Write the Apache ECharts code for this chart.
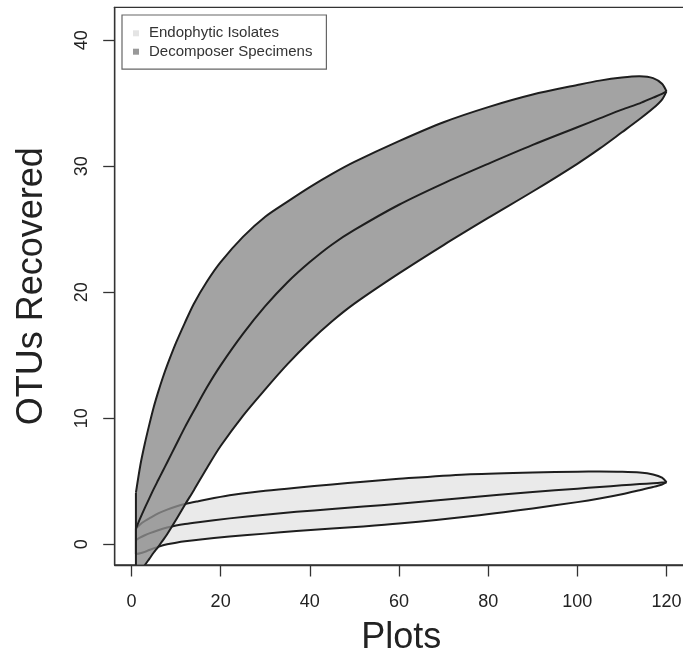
<!DOCTYPE html>
<html><head><meta charset="utf-8">
<script src="https://cdn.jsdelivr.net/npm/echarts@6/dist/echarts.min.js"></script>
<style>html,body{margin:0;padding:0;background:#fff;overflow:hidden}#c{width:683px;height:653px}</style>
</head><body><div id="c"></div>
<script>
// ---- data ----
const xTicks = [0, 20, 40, 60, 80, 100, 120];
const yTicks = [0, 10, 20, 30, 40];

const decX     = [1, 2, 3, 4, 5, 6, 7, 8, 10, 12, 14, 17, 20, 25, 30, 35, 40, 45, 50, 60, 70, 80, 90, 100, 105, 110, 114, 117, 119, 120];
const decUpper = [4.1, 6.3, 8.0, 9.5, 10.9, 12.1, 13.2, 14.2, 16.0, 17.6, 19.1, 20.9, 22.4, 24.4, 26.0, 27.2, 28.35, 29.4, 30.35, 32.0, 33.5, 34.7, 35.7, 36.45, 36.8, 37.05, 37.15, 37.0, 36.55, 35.95];
const decMean  = [1.25, 2.1, 2.9, 3.65, 4.4, 5.1, 5.8, 6.5, 7.9, 9.3, 10.6, 12.5, 14.2, 16.7, 18.9, 20.8, 22.4, 23.8, 24.95, 26.95, 28.65, 30.2, 31.7, 33.1, 33.8, 34.5, 35.0, 35.45, 35.75, 35.95];
const decLower = [-1.75, -2.05, -1.64, -1.15, -0.65, -0.2, 0.3, 0.8, 1.95, 3.15, 4.3, 6.1, 7.8, 10.2, 12.3, 14.3, 16.1, 17.7, 19.1, 21.5, 23.75, 25.9, 28.0, 30.2, 31.4, 32.7, 33.75, 34.6, 35.3, 35.95];

const endoX     = [1, 2, 3, 4, 6, 8, 10, 12, 15, 22, 30, 37, 45, 52, 60, 75, 90, 100, 105, 110, 114, 117, 119, 120];
const endoUpper = [1.25, 1.6, 1.85, 2.06, 2.45, 2.75, 3.0, 3.2, 3.42, 3.9, 4.25, 4.5, 4.75, 4.97, 5.2, 5.55, 5.71, 5.77, 5.78, 5.76, 5.7, 5.55, 5.3, 4.93];
const endoMean  = [0.34, 0.55, 0.72, 0.87, 1.12, 1.33, 1.5, 1.62, 1.76, 2.06, 2.35, 2.58, 2.8, 3.0, 3.22, 3.7, 4.15, 4.42, 4.55, 4.68, 4.78, 4.85, 4.9, 4.93];
const endoLower = [-0.77, -0.7, -0.6, -0.45, -0.2, 0.0, 0.13, 0.24, 0.37, 0.62, 0.85, 1.05, 1.25, 1.42, 1.65, 2.19, 2.85, 3.35, 3.64, 3.98, 4.3, 4.55, 4.75, 4.93];

const seriesNames = ['Endophytic Isolates', 'Decomposer Specimens'];

// ---- drawing ----
const FONT = 'Liberation Sans, Arial, Helvetica, sans-serif';
const LINE = '#1e1e1e';
const SMOOTH = 0.3;

function band(name, xs, up, mid, lo, fillColor, fillOpacity, z) {
  return {
    type: 'custom', name, z, clip: true, silent: true, animation: false,
    itemStyle: { color: fillColor },
    data: [[xs[0], up[0]]],
    renderItem: function (params, api) {
      const U = xs.map((x, i) => api.coord([x, up[i]]));
      const M = xs.map((x, i) => api.coord([x, mid[i]]));
      const L = xs.map((x, i) => api.coord([x, lo[i]]));
      const poly = U.concat(L.slice().reverse().slice(1));
      const stroke = { fill: null, stroke: LINE, lineWidth: 2, lineJoin: 'round' };
      return {
        type: 'group',
        children: [
          { type: 'polyline', shape: { points: poly, smooth: SMOOTH }, style: { fill: fillColor, opacity: fillOpacity, stroke: null } },
          { type: 'polyline', shape: { points: U, smooth: SMOOTH }, style: stroke },
          { type: 'polyline', shape: { points: L, smooth: SMOOTH }, style: stroke },
          { type: 'polyline', shape: { points: M, smooth: SMOOTH }, style: stroke },
          { type: 'polyline', shape: { points: [U[0], L[0]] }, style: stroke }
        ]
      };
    }
  };
}

const chart = echarts.init(document.getElementById('c'), null, { renderer: 'canvas' });
chart.setOption({
  animation: false,
  backgroundColor: '#fff',
  grid: { left: 114.7, top: 7.3, width: 573, height: 557.7, containLabel: false, outerBoundsMode: 'none',
          show: true, borderColor: '#333', borderWidth: 1.3, backgroundColor: 'transparent' },
  xAxis: {
    type: 'value', min: -3.76, max: 124.76, z: 10,
    name: 'Plots', nameLocation: 'middle', nameGap: 55,
    nameTextStyle: { fontFamily: FONT, fontSize: 36, color: '#222', lineHeight: 36 },
    axisLine: { show: true, onZero: false, lineStyle: { color: '#333', width: 1.3 } },
    axisTick: { show: true, length: 11.5, customValues: xTicks, lineStyle: { color: '#333', width: 1.3 } },
    axisLabel: { customValues: xTicks, margin: 28, fontFamily: FONT, fontSize: 18, color: '#222', lineHeight: 18 },
    splitLine: { show: false }
  },
  yAxis: {
    type: 'value', min: -1.64, max: 42.62, z: 10,
    name: 'OTUs Recovered', nameLocation: 'middle', nameGap: 65, nameRotate: 90,
    nameTextStyle: { fontFamily: FONT, fontSize: 36, color: '#222', lineHeight: 36 },
    axisLine: { show: true, onZero: false, lineStyle: { color: '#333', width: 1.3 } },
    axisTick: { show: true, length: 11.5, customValues: yTicks, lineStyle: { color: '#333', width: 1.3 } },
    axisLabel: { customValues: yTicks, rotate: 90, margin: 23.7, fontFamily: FONT, fontSize: 18, color: '#222', lineHeight: 18 },
    splitLine: { show: false }
  },
  legend: {
    left: 122, top: 15, orient: 'vertical',
    padding: [10.8, 14, 10, 11], itemWidth: 6, itemHeight: 6, itemGap: 3.4, icon: 'rect',
    backgroundColor: '#fff', borderColor: '#666', borderWidth: 1.2, selectedMode: false,
    itemStyle: { borderWidth: 0 },
    textStyle: { fontFamily: FONT, fontSize: 15, color: '#333', lineHeight: 15, padding: [0, 0, 0, 5] },
    data: [
      { name: seriesNames[0], itemStyle: { color: '#e4e4e4', borderWidth: 0 } },
      { name: seriesNames[1], itemStyle: { color: '#999999', borderWidth: 0 } }
    ]
  },
  series: [
    band(seriesNames[0], endoX, endoUpper, endoMean, endoLower, '#eaeaea', 1, 1),
    band(seriesNames[1], decX, decUpper, decMean, decLower, 'rgb(140,140,140)', 0.8, 2)
  ]
});
</script>
</body></html>
